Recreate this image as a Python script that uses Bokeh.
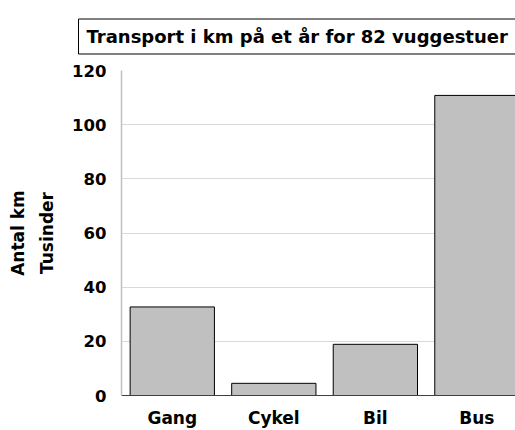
from bokeh.plotting import figure
from bokeh.models import FixedTicker, Range1d, Title
from bokeh.embed import file_html
from bokeh.resources import INLINE

categories = ["Gang", "Cykel", "Bil", "Bus"]
values = [32.7, 4.5, 18.9, 110.8]
y_ticks = [0, 20, 40, 60, 80, 100, 120]
title_text = "Transport i km på et år for 82 vuggestuer"
y_label = "Antal km\nTusinder"

FONT = "DejaVu Sans"
xpos = [i + 0.5 for i in range(len(categories))]

p = figure(width=515, height=430, output_backend="svg", toolbar_location=None,
           x_range=Range1d(0, 3.88), y_range=Range1d(0, 120),
           min_border_left=121, min_border_right=0, min_border_top=69, min_border_bottom=32)
p.outline_line_color = None
p.background_fill_color = "white"
p.border_fill_color = "white"

p.title = Title(text=title_text, align="left", offset=-43, standoff=33,
                text_font=FONT, text_font_style="bold", text_font_size="18px",
                text_color="black", border_line_color="black", border_line_width=1,
                background_fill_color="white",
                padding=dict(left=8, right=12, top=7, bottom=7))

p.vbar(x=xpos, top=values, width=0.83, fill_color="#c0c0c0",
       line_color="black", line_width=1)

p.xgrid.grid_line_color = None
p.ygrid.grid_line_color = "#d9d9d9"
p.ygrid.ticker = FixedTicker(ticks=y_ticks)

xax = p.below[0]
yax = p.left[0]
yax.ticker = FixedTicker(ticks=y_ticks)
xax.ticker = FixedTicker(ticks=xpos)
xax.major_label_overrides = {x: c for x, c in zip(xpos, categories)}

for ax in (xax, yax):
    ax.major_tick_line_color = None
    ax.minor_tick_line_color = None
    ax.major_tick_out = 0
    ax.major_tick_in = 0
    ax.minor_tick_out = 0
    ax.minor_tick_in = 0
    ax.major_label_text_font = FONT
    ax.major_label_text_font_style = "bold"
    ax.major_label_text_color = "black"
xax.major_label_text_font_size = "17px"
yax.major_label_text_font_size = "16.5px"
yax.major_label_standoff = 15
xax.major_label_standoff = 12

xax.axis_line_color = "#404040"
xax.axis_line_width = 1
yax.axis_line_color = "#c0c0c0"
yax.axis_line_width = 1.5

yax.axis_label = y_label
yax.axis_label_text_font = FONT
yax.axis_label_text_font_style = "bold"
yax.axis_label_text_font_size = "17px"
yax.axis_label_text_line_height = 1.45
yax.axis_label_text_color = "black"
yax.axis_label_standoff = 12

open("out.html", "w").write(file_html(p, INLINE))
